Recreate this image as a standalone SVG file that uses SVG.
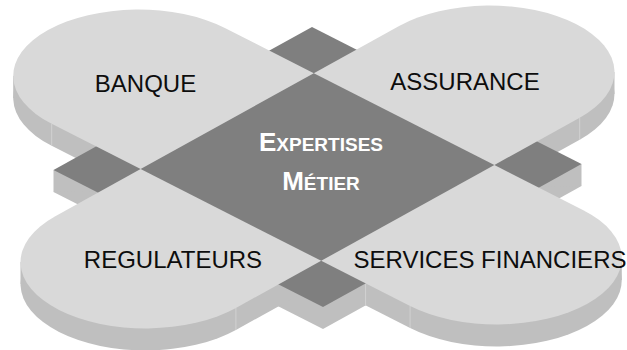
<svg xmlns="http://www.w3.org/2000/svg" width="627" height="350" viewBox="0 0 627 350">
<style>
.side{fill:#bfbfbf}
.top{fill:#d9d9d9}
.core{fill:#7f7f7f}
.seam{stroke:#d6d6d6;stroke-width:0.8;fill:none}
.lbl{font-family:"Liberation Sans",Arial,sans-serif;font-size:24px;fill:#0d0d0d;text-anchor:middle}
.core-lbl{font-family:"Liberation Sans",Arial,sans-serif;font-weight:bold;fill:#ffffff;text-anchor:middle}
</style>
<defs>
<path id="sq" d="M0 0H1V1H0Z"/>
<path id="tabB" d="M0.165 0.835 L-0.165 0.835 A0.335 0.335 0 0 1 -0.165 0.165 L0.165 0.165Z"/>
<path id="tabA" d="M0.165 0.165 L0.165 -0.165 A0.335 0.335 0 0 1 0.835 -0.165 L0.835 0.165Z"/>
<path id="tabS" d="M0.835 0.165 L1.165 0.165 A0.335 0.335 0 0 1 1.165 0.835 L0.835 0.835Z"/>
<path id="tabR" d="M0.835 0.835 L0.835 1.165 A0.335 0.335 0 0 1 0.165 1.165 L0.165 0.835Z"/>
</defs>

<g id="extrusion" class="side">
  <g transform="translate(0,22) matrix(269.5 137 -258.5 143 312 27)">
    <use href="#sq"/>
    <use href="#tabB"/>
    <use href="#tabA"/>
    <use href="#tabS"/>
    <use href="#tabR"/>
  </g>
  <polygon points="53.5,170 581.5,164 581.5,186 53.5,192"/>
  <polygon points="13.2,75.9 313.8,73.2 313.8,95.2 13.2,97.9"/>
  <polygon points="313.8,73.2 614.5,71.9 614.5,93.9 313.8,95.2"/>
  <polygon points="321.2,260.8 621.8,258 621.8,280 321.2,282.8"/>
  <polygon points="20.5,262.1 321.2,260.8 321.2,282.8 20.5,284.1"/>
  <g class="seam">
    <line x1="51.7" y1="124" x2="51.7" y2="146"/>
    <line x1="579.7" y1="118" x2="579.7" y2="140"/>
    <line x1="235.9" y1="308" x2="235.9" y2="330"/>
    <line x1="410.1" y1="306" x2="410.1" y2="328"/>
    <line x1="365.6" y1="283.6" x2="365.6" y2="305.6"/>
  </g>
</g>

<g id="node-core">
  <use href="#sq" class="core" transform="matrix(269.5 137 -258.5 143 312 27)"/>
  <text class="core-lbl" x="321" y="151"><tspan font-size="26">E</tspan><tspan font-size="19">XPERTISES</tspan></text>
  <text class="core-lbl" x="321" y="190"><tspan font-size="26">M</tspan><tspan font-size="19">ÉTIER</tspan></text>
</g>

<g id="node-banque">
  <use href="#tabB" class="top" transform="matrix(269.5 137 -258.5 143 312 27)"/>
  <text class="lbl" x="145.5" y="92">BANQUE</text>
</g>

<g id="node-assurance">
  <use href="#tabA" class="top" transform="matrix(269.5 137 -258.5 143 312 27)"/>
  <text class="lbl" x="465" y="90">ASSURANCE</text>
</g>

<g id="node-services">
  <use href="#tabS" class="top" transform="matrix(269.5 137 -258.5 143 312 27)"/>
  <text class="lbl" x="490" y="268">SERVICES FINANCIERS</text>
</g>

<g id="node-regulateurs">
  <use href="#tabR" class="top" transform="matrix(269.5 137 -258.5 143 312 27)"/>
  <text class="lbl" x="173" y="268">REGULATEURS</text>
</g>
</svg>
